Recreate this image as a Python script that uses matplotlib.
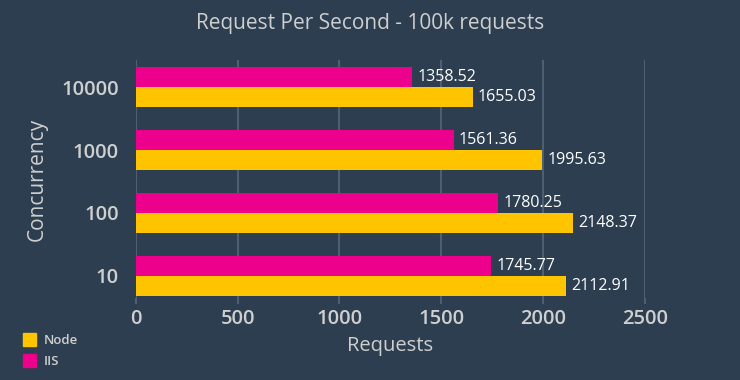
import numpy as np
import matplotlib.pyplot as plt
from matplotlib.patches import Patch

concurrency = ["10", "100", "1000", "10000"]
node = [2112.91, 2148.37, 1995.63, 1655.03]
iis = [1745.77, 1780.25, 1561.36, 1358.52]

bg = "#2c3e50"
node_color = "#ffc400"
iis_color = "#ec008c"
text_color = "#cfcfcf"

plt.rcParams["font.family"] = ["Open Sans", "DejaVu Sans"]
plt.rcParams["font.weight"] = "semibold"

fig = plt.figure(figsize=(7.4, 3.8), dpi=100, facecolor=bg)
ax = fig.add_axes([0.1834, 0.216, 0.6882, 0.626], facecolor=bg)

y = np.arange(len(concurrency))
h = 0.317
ax.barh(y - h / 2, node, height=h, color=node_color, zorder=3)
ax.barh(y + h / 2, iis, height=h, color=iis_color, zorder=3)

for yi, v in zip(y, node):
    ax.text(v + 25, yi - h / 2, f"{v:.2f}", va="center", ha="left", color="white",
            fontsize=11.5, fontweight="normal", zorder=4)
for yi, v in zip(y, iis):
    ax.text(v + 25, yi + h / 2, f"{v:.2f}", va="center", ha="left", color="white",
            fontsize=11.5, fontweight="normal", zorder=4)

ax.set_xlim(0, 2500)
ax.set_ylim(-0.35, 3.43)
ax.set_xticks([0, 500, 1000, 1500, 2000, 2500])
ax.set_yticks(y)
ax.set_yticklabels(concurrency)
ax.grid(axis="x", color="#4d5f70", linewidth=1.5, zorder=0)
for s in ax.spines.values():
    s.set_visible(False)
ax.tick_params(axis="x", colors="#4d5f70", labelcolor=text_color, labelsize=14.5, length=4, width=1.5, pad=4)
ax.tick_params(axis="y", length=0, labelcolor=text_color, labelsize=14.5, pad=12)

ax.set_xlabel("Requests", color=text_color, fontsize=14.5, labelpad=5)
ax.set_ylabel("Concurrency", color=text_color, fontsize=15, labelpad=10)
fig.suptitle("Request Per Second - 100k requests", color=text_color, fontsize=15, y=0.965)

handles = [Patch(color=node_color, label="Node"), Patch(color=iis_color, label="IIS")]
fig.legend(handles=handles, loc="lower left", bbox_to_anchor=(0.015, 0.0), frameon=False,
           labelcolor=text_color, fontsize=9.5, handlelength=0.95, handleheight=1.15,
           handletextpad=0.6, labelspacing=0.55)

fig.savefig("out.png", dpi=100, facecolor=bg)
